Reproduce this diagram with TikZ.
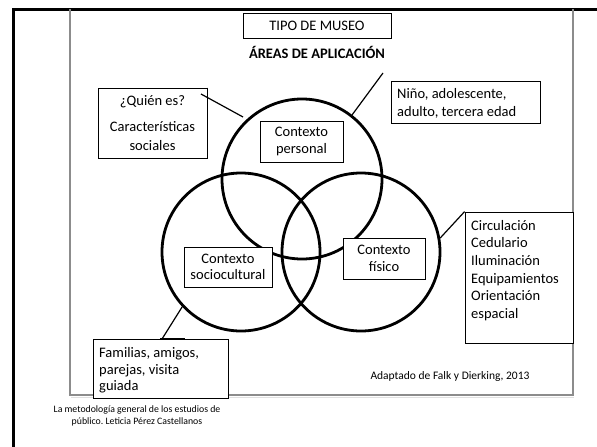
\documentclass[tikz,border=0pt]{standalone}
\usepackage{fontspec}
\setmainfont{Carlito}
\begin{document}
\frenchspacing
\begin{tikzpicture}[x=1pt,y=-1pt,
  framebox/.style={draw, line width=0.8pt, inner sep=0pt, fill=white},
  ring/.style={draw, circle, line width=2.8pt, inner sep=0pt},
  link/.style={line width=1.2pt},
  body/.style={font=\fontsize{14.5}{17.5}\selectfont}]
\path[use as bounding box] (0,0) rectangle (597,447);
% frames
\draw[line width=3pt] (13,447) -- (13,9) -- (597,9);
\draw[black!45, line width=1.4pt] (70,9) -- (70,395) -- (573,395) -- (573,9);
\draw[black!12, line width=1pt] (71,397) -- (574,397);
% title
\node[framebox, minimum width=148pt, minimum height=25pt, body] (tipo) at (317,25.5) {TIPO DE MUSEO};
\node[font={\fontsize{14.5}{17.5}\selectfont\bfseries}] (areas) at (317,52) {ÁREAS DE APLICACIÓN};
% circles
\node[ring, minimum size=160pt] (personalc) at (302,179) {};
\node[ring, minimum size=158pt] (socioc) at (241,252) {};
\node[ring, minimum size=158pt] (fisicoc) at (361,252) {};
% context boxes
\node[framebox, minimum width=83pt, minimum height=41pt, align=center, font=\fontsize{14.5}{16.5}\selectfont] (personal) at (301.5,141.5) {Contexto\\personal};
\node[framebox, minimum width=88pt, minimum height=40pt, align=center, font=\fontsize{14.5}{16.5}\selectfont] (socio) at (228,267) {Contexto\\sociocultural};
\node[framebox, minimum width=82pt, minimum height=41pt, align=center, font=\fontsize{14.5}{16.5}\selectfont] (fisico) at (384,258.5) {Contexto\\físico};
% annotation boxes
\node[framebox, minimum width=109pt, minimum height=70pt, align=center, font=\fontsize{14.5}{19}\selectfont] (quien) at (152.5,123) {¿Quién es?\\[7pt]Características\\sociales};
\node[framebox, minimum width=149pt, minimum height=42pt] (nino) at (465.5,102) {};
\node[anchor=west, inner sep=0pt, align=left, body] (ninotext) at (397,103.5) {Niño, adolescente,\\adulto, tercera edad};
\node[framebox, minimum width=108pt, minimum height=131pt] (circ) at (519,277.5) {};
\node[anchor=north west, inner sep=0pt, align=left, font=\fontsize{14.5}{17.6}\selectfont] (circtext) at (471,220) {Circulación\\Cedulario\\Iluminación\\Equipamientos\\Orientación\\espacial};
\node[framebox, minimum width=135pt, minimum height=59pt] (fam) at (160.5,368.5) {};
\node[anchor=west, inner sep=0pt, align=left, font=\fontsize{14.5}{16.5}\selectfont] (famtext) at (99,370.5) {Familias, amigos,\\parejas, visita\\guiada};
% connectors
\coordinate (q1) at (201,94);
\coordinate (q2) at (243,117);
\draw[link] (q1) -- (q2);
\coordinate (n1) at (383,73);
\draw[link] (n1) -- (personalc.52);
\draw[link] (fisicoc.10) -- (circ.north west);
\coordinate (f1) at (162,339);
\draw[link] (f1) -- (socioc.223);
% thicker edge pieces
\draw[line width=1.8pt] (quien.north east) -- ++(0,40);
\draw[line width=2pt] (160,339) -- (185,339);
% credits
\node[font=\fontsize{11.5}{13}\selectfont] (adapt) at (450,376) {Adaptado de Falk y Dierking, 2013};
\node[font=\fontsize{9.8}{11.5}\selectfont, align=center] (foot) at (137,416) {La metodología general de los estudios de\\público. Leticia Pérez Castellanos};
\end{tikzpicture}
\end{document}
